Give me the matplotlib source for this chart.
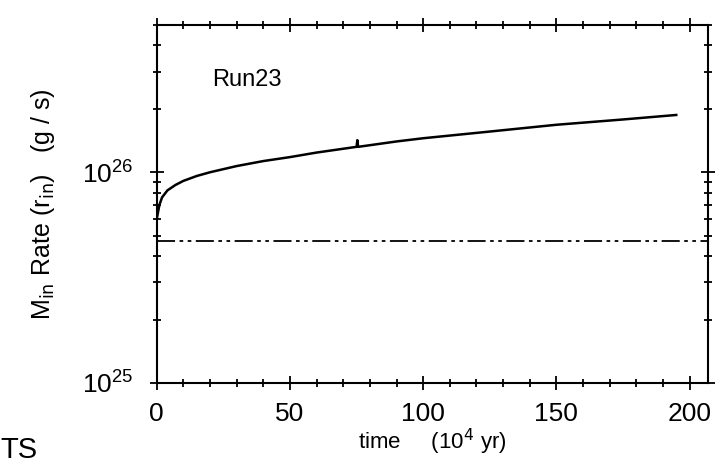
import numpy as np
import matplotlib.pyplot as plt
from matplotlib.ticker import MultipleLocator, LogLocator, NullFormatter

plt.rcParams['font.family'] = ['Liberation Sans Narrow', 'Liberation Sans', 'DejaVu Sans']
plt.rcParams['mathtext.fontset'] = 'custom'
plt.rcParams['mathtext.rm'] = 'Liberation Sans Narrow'
plt.rcParams['mathtext.it'] = 'Liberation Sans Narrow'

# accretion rate at r_in vs time (10^4 yr)
time = [0, 1, 2, 4, 7, 10, 15, 20, 30, 40, 50, 60, 75, 75.3, 75.6, 90, 100,
        125, 150, 175, 195]
rate = [6.0e25, 7.0e25, 7.6e25, 8.2e25, 8.7e25, 9.1e25, 9.6e25, 1.0e26,
        1.07e26, 1.13e26, 1.18e26, 1.24e26, 1.32e26, 1.42e26, 1.32e26,
        1.40e26, 1.45e26, 1.56e26, 1.68e26, 1.78e26, 1.87e26]
ref_rate = 4.7e25

fig = plt.figure(figsize=(7.19, 4.62), dpi=100)
ax = fig.add_axes([0.218, 0.171, 0.767, 0.775])

ax.plot(time, rate, color='black', linewidth=1.8)
ax.axhline(ref_rate, color='black', linewidth=1.3,
           linestyle=(0, (10, 2.5, 2, 2.5, 2, 2.5)))

ax.set_yscale('log')
ax.set_xlim(0, 207)
ax.set_ylim(1e25, 5e26)

ax.xaxis.set_major_locator(MultipleLocator(50))
ax.xaxis.set_minor_locator(MultipleLocator(10))
ax.yaxis.set_major_locator(LogLocator(base=10))
ax.yaxis.set_minor_locator(LogLocator(base=10, subs=np.arange(2, 10)))
ax.yaxis.set_minor_formatter(NullFormatter())

ax.tick_params(which='both', direction='inout', top=True, right=True,
               labelsize=19, width=1.3)
ax.tick_params(which='major', length=10)
ax.tick_params(which='minor', length=6)
ax.tick_params(axis='x', pad=9)
ax.tick_params(axis='y', pad=12)
for s in ax.spines.values():
    s.set_linewidth(1.5)

ax.set_xlabel(r'time     (10$^4$ yr)', fontsize=16, labelpad=0)
ax.set_ylabel(r'M$_{\rm in}$ Rate (r$_{\rm in}$)   (g / s)', fontsize=18,
              labelpad=18)
ax.text(0.10, 0.83, 'Run23', transform=ax.transAxes, fontsize=17)

fig.text(0.0, 0.008, 'TS', fontsize=21, family='Liberation Sans')

fig.savefig('out.png', dpi=100)
